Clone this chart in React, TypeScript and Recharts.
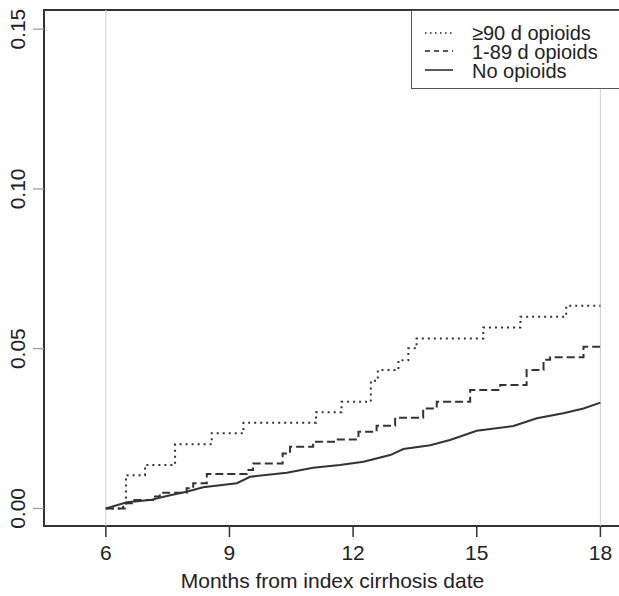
import React from 'react';
import { LineChart, Line, XAxis, YAxis, ReferenceLine, ReferenceArea, Legend } from 'recharts';

// ---- data ----
const xTicks = [6, 9, 12, 15, 18];
const yTicks = [0, 0.05, 0.1, 0.15];
const xTitle = 'Months from index cirrhosis date';
const seriesNames = ['\u226590 d opioids', '1-89 d opioids', 'No opioids'];

const longMonths = [6.0, 6.49, 6.95, 7.68, 8.57, 9.34, 11.1, 11.72, 12.43, 12.6, 13.1, 13.34, 13.54, 15.16, 16.06, 17.17, 18.0];
const longRisk = [0, 0.0104, 0.0136, 0.0201, 0.0235, 0.0268, 0.0301, 0.0334, 0.04, 0.0433, 0.0464, 0.0501, 0.0532, 0.0566, 0.06, 0.0634, 0.0634];

const shortMonths = [6.0, 6.42, 6.63, 7.15, 7.31, 7.96, 8.12, 8.45, 9.42, 9.57, 10.29, 10.47, 11.03, 11.6, 12.13, 12.57, 13.02, 13.7, 14.03, 14.84, 15.57, 16.21, 16.62, 16.78, 17.59, 18.0];
const shortRisk = [0, 0.0016, 0.0026, 0.0037, 0.0049, 0.0063, 0.0079, 0.0108, 0.012, 0.0141, 0.0172, 0.0193, 0.0209, 0.0216, 0.024, 0.0259, 0.0284, 0.0313, 0.0334, 0.0371, 0.0386, 0.0433, 0.0465, 0.0473, 0.0506, 0.0506];

const noneMonths = [6.0, 6.51, 7.07, 7.48, 7.96, 8.36, 9.18, 9.5, 10.39, 11.03, 11.68, 12.25, 12.9, 13.22, 13.87, 14.35, 15.0, 15.89, 16.46, 17.1, 17.59, 18.0];
const noneRisk = [0.0, 0.0019, 0.0026, 0.0039, 0.0052, 0.0066, 0.0079, 0.0099, 0.0112, 0.0127, 0.0136, 0.0146, 0.0167, 0.0186, 0.0198, 0.0214, 0.0243, 0.0258, 0.0282, 0.0298, 0.0313, 0.0331];

const toPoints = (xs: number[], ys: number[]) => xs.map((x, i) => ({ x, y: ys[i] }));
const longData = toPoints(longMonths, longRisk);
const shortData = toPoints(shortMonths, shortRisk);
const noneData = toPoints(noneMonths, noneRisk);

const FONT = '"Liberation Sans", Arial, Helvetica, sans-serif';
const TXT = '#222';
const X_DOMAIN = [4.5, 18.5];
const Y_DOMAIN = [-0.0055, 0.156];

const legendStyles = [
  { dash: '1.5 3.5', width: 1.3 },
  { dash: '5 4', width: 1.3 },
  { dash: undefined, width: 1.5 },
];

const XTick = (props: any) => (
  <text x={props.x} y={560} textAnchor="middle" fontFamily={FONT} fontSize={21} fill={TXT}>
    {props.payload.value}
  </text>
);

const YTick = (props: any) => (
  <text
    x={25}
    y={props.y}
    textAnchor="middle"
    transform={`rotate(-90, 25, ${props.y})`}
    fontFamily={FONT}
    fontSize={21}
    fill={TXT}
  >
    {Number(props.payload.value).toFixed(2)}
  </text>
);

const renderTitle = () => (
  <text x={332.5} y={588} textAnchor="middle" fontFamily={FONT} fontSize={21} fill={TXT}>
    {xTitle}
  </text>
);

const renderLegend = () => (
  <svg width={212} height={79} style={{ display: 'block' }}>
    <rect x={0.5} y={0.5} width={230} height={78} fill="#fff" stroke="#555" strokeWidth={1} />
    {seriesNames.map((name, i) => {
      const lineY = [23, 41, 60][i];
      const textY = [30, 49, 68][i];
      return (
        <g key={name}>
          <line
            x1={14}
            x2={42}
            y1={lineY}
            y2={lineY}
            stroke="#222"
            strokeWidth={legendStyles[i].width}
            strokeDasharray={legendStyles[i].dash}
          />
          <text x={61} y={textY} fontFamily={FONT} fontSize={20} fill={TXT}>
            {name}
          </text>
        </g>
      );
    })}
  </svg>
);

export default function App() {
  return (
    <div style={{ position: 'absolute', left: 0, top: 0, width: 619, height: 596, overflow: 'hidden', background: '#fff' }}>
      <LineChart width={619} height={596} margin={{ top: 10, right: -2, bottom: 0, left: 0 }}>
        <XAxis
          type="number"
          dataKey="x"
          domain={X_DOMAIN}
          ticks={xTicks}
          allowDataOverflow
          height={70}
          axisLine={false}
          tickLine={{ stroke: '#333', strokeWidth: 1.5 }}
          tickSize={11}
          tick={XTick}
          label={{ content: renderTitle }}
        />
        <YAxis
          type="number"
          dataKey="y"
          domain={Y_DOMAIN}
          ticks={yTicks}
          allowDataOverflow
          width={44}
          axisLine={false}
          tickLine={{ stroke: '#999', strokeWidth: 1.2 }}
          tickSize={11}
          tick={YTick}
        />
        <ReferenceLine x={6} stroke="#cfcfcf" strokeWidth={1} />
        <ReferenceLine x={18} stroke="#cfcfcf" strokeWidth={1} />
        <Line
          data={longData}
          dataKey="y"
          name={seriesNames[0]}
          type="stepAfter"
          stroke="#333"
          strokeWidth={2}
          strokeDasharray="2 4"
          dot={false}
          isAnimationActive={false}
        />
        <Line
          data={shortData}
          dataKey="y"
          name={seriesNames[1]}
          type="stepAfter"
          stroke="#333"
          strokeWidth={2}
          strokeDasharray="8 4"
          dot={false}
          isAnimationActive={false}
        />
        <Line
          data={noneData}
          dataKey="y"
          name={seriesNames[2]}
          type="linear"
          stroke="#333"
          strokeWidth={2}
          dot={false}
          isAnimationActive={false}
        />
        <ReferenceArea
          x1={X_DOMAIN[0]}
          x2={X_DOMAIN[1]}
          y1={Y_DOMAIN[0]}
          y2={Y_DOMAIN[1]}
          fill="none"
          fillOpacity={0}
          stroke="#333"
          strokeWidth={2}
          ifOverflow="visible"
        />
        <Legend
          layout="horizontal"
          verticalAlign="middle"
          align="center"
          content={renderLegend}
          wrapperStyle={{ left: 411, top: 10, width: 212, height: 79 }}
        />
      </LineChart>
    </div>
  );
}
